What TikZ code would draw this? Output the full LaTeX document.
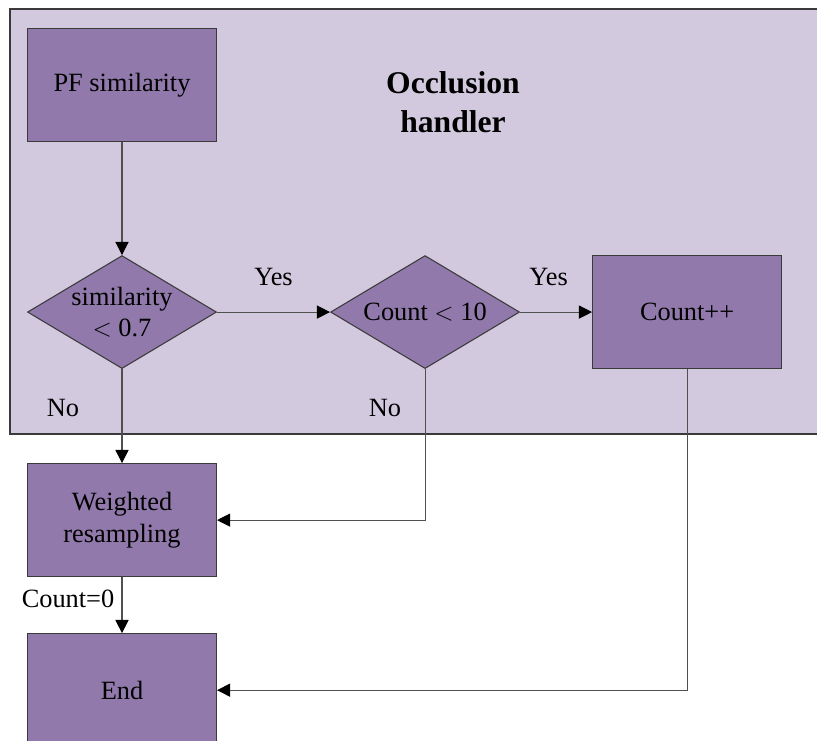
\documentclass[tikz,border=0pt]{standalone}
\usepackage{fontspec}
\setmainfont{Liberation Serif}
\usepackage{tikz}
\usetikzlibrary{shapes,arrows.meta,positioning,calc}
\usepackage{xcolor}
\definecolor{ocInk}{HTML}{3A3A3A}
\definecolor{ocLine}{HTML}{505050}
\definecolor{ocPurple}{HTML}{9179AB}
\definecolor{ocLilac}{HTML}{D2C9DF}
\tikzset{
  blk/.style={draw=ocInk, fill=ocPurple, line width=0.6pt, minimum width=3.78cm, minimum height=2.26cm, inner sep=2pt, font=\fontsize{15}{18}\selectfont, align=center},
  dec/.style={blk, diamond, aspect=1.67, inner sep=-6pt},
  lbl/.style={font=\fontsize{15}{18}\selectfont, inner sep=1pt},
  arr/.style={-{Triangle[length=7.5pt, width=7.5pt, color=black]}, line width=0.6pt, draw=ocLine},
}

\begin{document}
\begin{tikzpicture}[node distance=2.26cm]
            \useasboundingbox (0,0) rectangle (16.34,-14.8);
            % occlusion handler region
            \draw[ocInk, fill=ocLilac, line width=0.6pt] (0.2,-0.18) rectangle (16.6,-8.68);
            \node[font=\fontsize{18}{22}\selectfont\bfseries, align=center] (title) at (9.06,-2.04) {Occlusion\\handler};
            \node[blk] (pf) at (2.44,-1.7) {PF similarity};
            \node[dec, below=of pf] (sim) {similarity\\$<$ 0.7};
            \node[dec, right=of sim] (cnt) {Count $<$ 10};
            \node[blk, right=1.44cm of cnt] (inc) {Count++};
            \node[blk, below=1.88cm of sim] (ws) {Weighted\\resampling};
            \node[blk, below=1.12cm of ws] (fin) {End};
            \draw[arr] (pf) -- (sim);
            \draw[arr] (sim) -- node[lbl, above=0.48cm] {Yes} (cnt);
            \draw[arr] (cnt) -- node[lbl, above=0.48cm, xshift=-0.15cm] {Yes} (inc);
            \draw[arr] (sim) -- (ws);
            \draw[arr] (cnt.south) |- (ws.east);
            \draw[arr] (inc.south) |- (fin.east);
            \draw[arr] (ws) -- (fin);
            \node[lbl] (no1) at ([xshift=-1.18cm, yshift=-0.78cm]sim.south) {No};
            \node[lbl] (no2) at ([xshift=-0.8cm, yshift=-0.78cm]cnt.south) {No};
            \node[lbl] (c0) at ([xshift=-1.08cm, yshift=-0.44cm]ws.south) {Count=0};
        \end{tikzpicture}
\end{document}
